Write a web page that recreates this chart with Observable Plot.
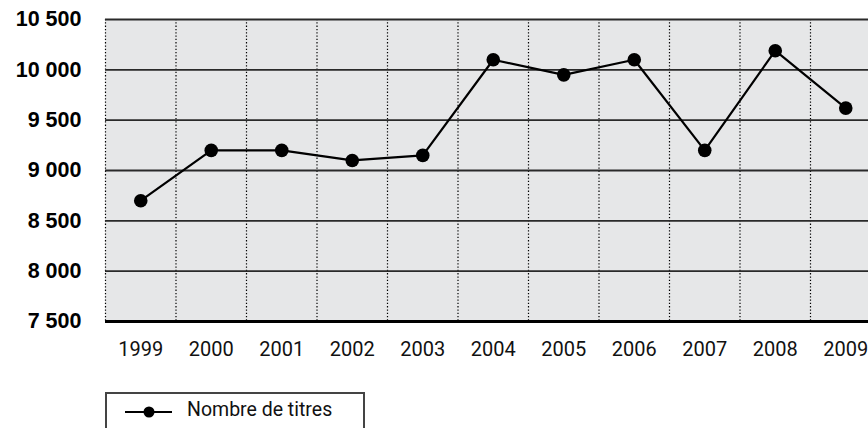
<!DOCTYPE html>
<html><head><meta charset="utf-8">
<script src="https://cdn.jsdelivr.net/npm/d3@7"></script>
<script src="https://cdn.jsdelivr.net/npm/@observablehq/plot@0.6"></script>
<style>
html,body{margin:0;padding:0;background:#fff;overflow:hidden;width:868px;height:428px;}
#chart{position:absolute;left:0;top:0;}
#legend{position:absolute;left:105px;top:392px;width:260px;height:40px;border:2px solid #444;border-bottom:none;box-sizing:border-box;background:#fff;}
#legend svg{position:absolute;left:17px;top:10px;}
#legend span{position:absolute;left:80px;top:4px;font-family:Roboto,sans-serif;font-size:19.5px;color:#111;white-space:nowrap;}
</style></head><body>
<div id="chart"></div>
<div id="legend"><svg width="50" height="16"><line x1="1" y1="8" x2="48" y2="8" stroke="#000" stroke-width="2"/><circle cx="25" cy="8" r="5.5" fill="#000"/></svg><span id="legendText"></span></div>
<script>
const years = [1999, 2000, 2001, 2002, 2003, 2004, 2005, 2006, 2007, 2008, 2009];
const titres = [8700, 9200, 9200, 9100, 9150, 10100, 9950, 10100, 9200, 10190, 9620];
const yTicks = [7500, 8000, 8500, 9000, 9500, 10000, 10500];
const yTickLabels = ["7 500", "8 000", "8 500", "9 000", "9 500", "10 000", "10 500"];
const xTickLabels = ["1999", "2000", "2001", "2002", "2003", "2004", "2005", "2006", "2007", "2008", "2009"];
const seriesName = "Nombre de titres";

const data = years.map((year, i) => ({year, value: titres[i]}));
const bounds = years.map(y => y - 0.5).concat([years[years.length - 1] + 0.5]);
const bg = [{x1: bounds[0], x2: bounds[bounds.length - 1], y1: yTicks[0], y2: yTicks[yTicks.length - 1]}];

const chart = Plot.plot({
  width: 868,
  height: 392,
  marginLeft: 105,
  marginRight: 0,
  marginTop: 19,
  marginBottom: 71,
  x: {type: "linear", domain: [bounds[0], bounds[bounds.length - 1]], range: [105, 880.5]},
  y: {domain: [yTicks[0], yTicks[yTicks.length - 1]]},
  marks: [
    Plot.rect(bg, {x1: "x1", x2: "x2", y1: "y1", y2: "y2", fill: "#e6e7e8"}),
    Plot.ruleX(bounds, {stroke: "#000", strokeWidth: 1.2, strokeDasharray: "1.3,2"}),
    Plot.ruleY(yTicks.slice(1), {stroke: "#2a2a2a", strokeWidth: 1.8}),
    Plot.ruleY([yTicks[0]], {stroke: "#000", strokeWidth: 3.2}),
    Plot.axisY(yTicks, {anchor: "left", tickSize: 0, tickPadding: 24, label: null,
      tickFormat: d => yTickLabels[yTicks.indexOf(d)],
      fontSize: 21.5, fontWeight: "bold", fontFamily: "Liberation Sans", fill: "#000"}),
    Plot.axisX(years, {anchor: "bottom", tickSize: 0, tickPadding: 20, label: null,
      tickFormat: d => xTickLabels[years.indexOf(d)],
      fontSize: 20, fontFamily: "Roboto", fill: "#111"}),
    Plot.line(data, {x: "year", y: "value", stroke: "#000", strokeWidth: 2.2}),
    Plot.dot(data, {x: "year", y: "value", r: 6.8, fill: "#000", stroke: "none"})
  ]
});
document.getElementById("chart").appendChild(chart);
document.getElementById("legendText").textContent = seriesName;
</script>
</body></html>
